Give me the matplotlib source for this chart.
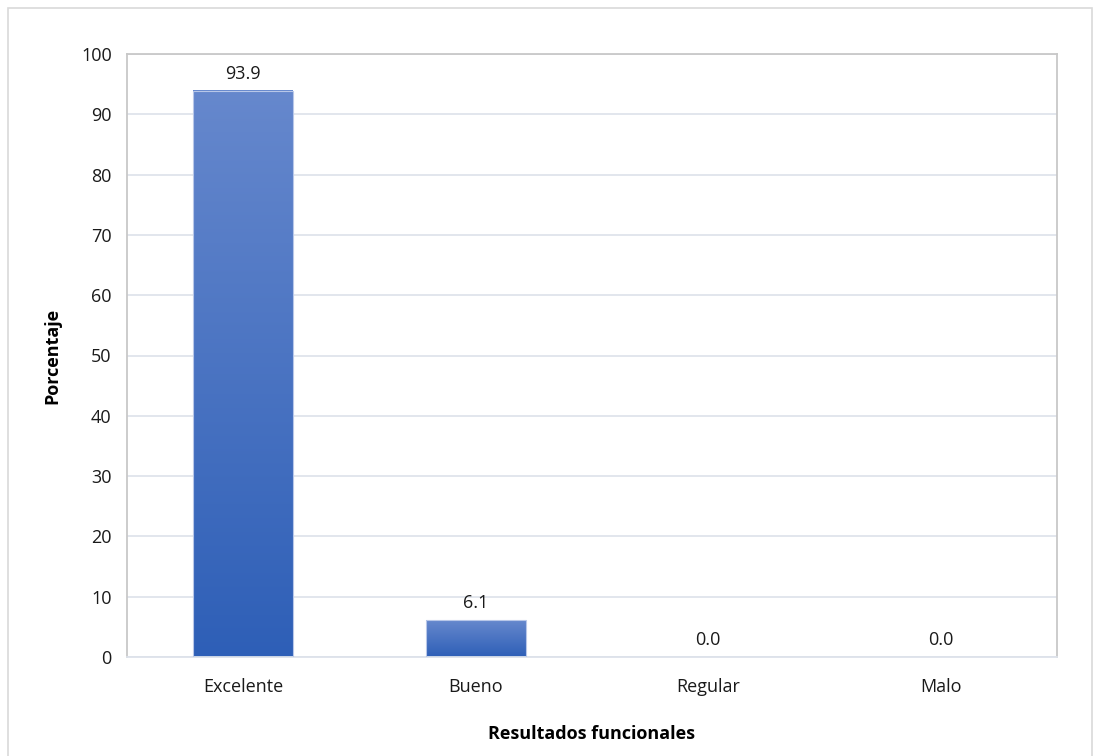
import numpy as np
import matplotlib
matplotlib.use('Agg')
import matplotlib.pyplot as plt
from matplotlib.colors import LinearSegmentedColormap
from matplotlib.patches import Rectangle

categorias = ['Excelente', 'Bueno', 'Regular', 'Malo']
porcentajes = [93.9, 6.1, 0.0, 0.0]
yticks = list(range(0, 101, 10))

plt.rcParams['font.family'] = ['Open Sans', 'DejaVu Sans']

fig = plt.figure(figsize=(10.94, 7.56), dpi=100)
ax = fig.add_axes([127 / 1094, 1 - 657 / 756, 930 / 1094, 603 / 756])

# outer frame around the whole chart
fig.patches.append(Rectangle((8 / 1094, -0.01), 1084 / 1094, 1 - 8 / 756 + 0.01,
                             transform=fig.transFigure, fill=False,
                             edgecolor='#d9d9d9', linewidth=1.2))

x = np.arange(len(categorias))
ancho = 0.43
grad = LinearSegmentedColormap.from_list('azul', ['#2e5fb7', '#6688cd'])

ax.set_yticks(yticks)
ax.set_xticks(x)
ax.set_xticklabels(categorias)
ax.yaxis.grid(True, color='#dde2ea', linewidth=1.2)
ax.set_axisbelow(True)

for xi, v in zip(x, porcentajes):
    if v > 0:
        # vertical gradient fill for each bar
        ax.imshow(np.linspace(0, 1, 256).reshape(-1, 1), cmap=grad, origin='lower',
                  extent=(xi - ancho / 2, xi + ancho / 2, 0, v), aspect='auto', zorder=2)
        ax.add_patch(Rectangle((xi - ancho / 2, 0), ancho, v, fill=False,
                               edgecolor='#b8c7e8', linewidth=0.8, zorder=3))
    ax.text(xi, v + 1.3, '{0:.1f}'.format(v), ha='center', va='bottom', fontsize=13, color='#1a1a1a')

ax.set_xlim(-0.5, len(categorias) - 0.5)
ax.set_ylim(0, 100)

for s in ax.spines.values():
    s.set_color('#c8c8c8')
    s.set_linewidth(1.3)
ax.spines['bottom'].set_color('#dde2ea')

ax.tick_params(length=0, labelsize=13, colors='#1a1a1a')
ax.tick_params(axis='x', pad=15)
ax.tick_params(axis='y', pad=11)
ax.set_xlabel('Resultados funcionales', fontsize=13, fontweight='bold', labelpad=21)
ax.set_ylabel('Porcentaje', fontsize=13, fontweight='bold', labelpad=14)

plt.savefig('out.png', dpi=100)
